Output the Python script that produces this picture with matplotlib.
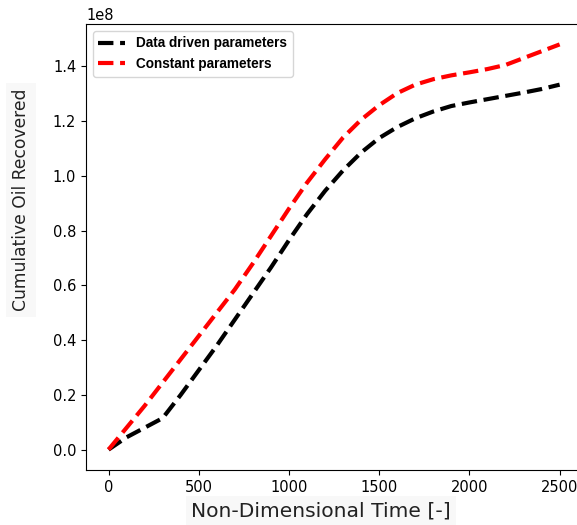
import matplotlib.pyplot as plt
import numpy as np

# Non-dimensional time samples
TIME = [0, 100, 200, 300, 400, 500, 600, 700, 800, 900, 1000, 1100, 1200,
        1300, 1400, 1500, 1600, 1700, 1800, 1900, 2000, 2100, 2200, 2300, 2400, 2500]

# Cumulative oil recovered (x1e8)
DATA_DRIVEN = [0.0, 0.045, 0.08, 0.115, 0.2, 0.29, 0.38, 0.475, 0.57, 0.665, 0.765,
               0.86, 0.945, 1.02, 1.085, 1.138, 1.178, 1.21, 1.235, 1.255, 1.268, 1.28,
               1.292, 1.304, 1.317, 1.333]
CONSTANT = [0.0, 0.08, 0.16, 0.245, 0.33, 0.415, 0.5, 0.585, 0.68, 0.78, 0.88,
            0.975, 1.06, 1.14, 1.205, 1.258, 1.302, 1.333, 1.353, 1.367, 1.378,
            1.39, 1.405, 1.43, 1.455, 1.48]

SCALE = 1e8


def main():
    fig = plt.figure(figsize=(5.77, 5.25), dpi=100)
    ax = fig.add_axes([0.149, 0.105, 0.86, 0.849])

    t = np.array(TIME)
    ax.plot(t, np.array(DATA_DRIVEN) * SCALE, "k--", linewidth=3, label="Data driven parameters")
    ax.plot(t, np.array(CONSTANT) * SCALE, "r--", linewidth=3, label="Constant parameters")

    ax.set_xticks([0, 500, 1000, 1500, 2000, 2500])
    ax.set_yticks(np.arange(0, 1.41, 0.2) * SCALE)
    ax.tick_params(labelsize=10.5)
    ax.yaxis.get_offset_text().set_fontsize(10.5)

    # axis labels placed as in the screenshot (slightly off-white boxes behind them)
    box = dict(facecolor="#f8f8f8", edgecolor="none", pad=4)
    fig.text(321 / 577, 1 - 511 / 525, "Non-Dimensional Time [-]", fontsize=14.6,
             color="#222222", ha="center", va="center", bbox=box)
    fig.text(21 / 577, 1 - 200 / 525, "Cumulative Oil Recovered", fontsize=12.3,
             color="#222222", ha="center", va="center", rotation=90, bbox=box)

    ax.legend(loc="upper left", prop={"family": "Liberation Sans", "weight": "bold", "size": 9.8})

    fig.savefig("out.png", dpi=100)
    plt.close(fig)


if __name__ == "__main__":
    main()
